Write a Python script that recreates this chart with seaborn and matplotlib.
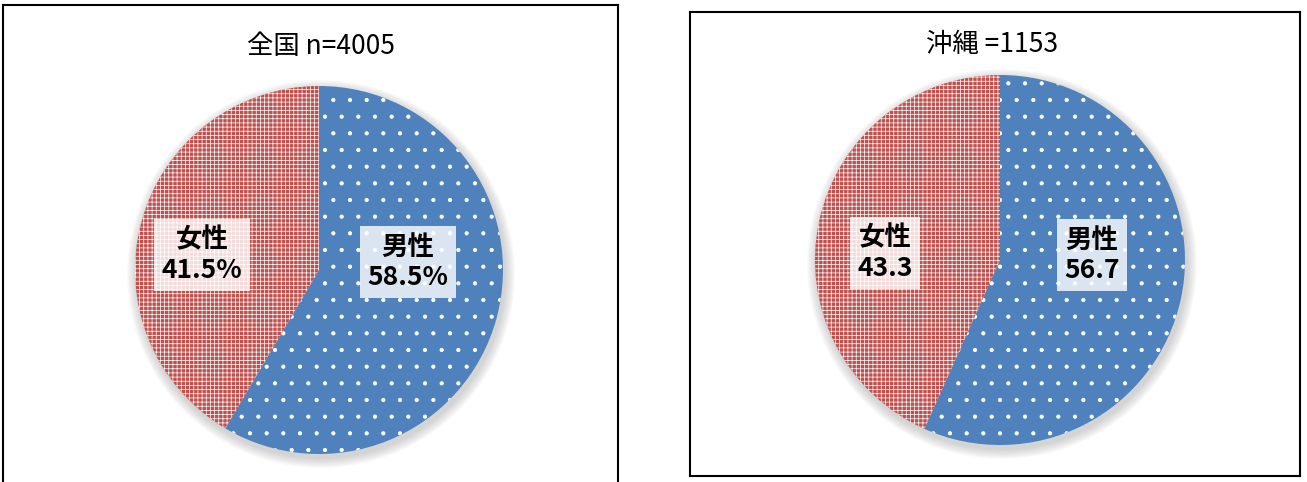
import matplotlib
matplotlib.use("Agg")
from matplotlib import pyplot as plt
from matplotlib.patches import Circle
import seaborn as sns

# data
titles = ["全国 n=4005", "沖縄 =1153"]
labels = ["男性", "女性"]
zenkoku = [58.5, 41.5]
okinawa = [56.7, 43.3]
zenkoku_text = ["58.5%", "41.5%"]
okinawa_text = ["56.7", "43.3"]

sns.set_theme(style="white")
plt.rcParams['font.family'] = ['Noto Sans CJK JP', 'DejaVu Sans']
plt.rcParams['hatch.color'] = 'white'
plt.rcParams['hatch.linewidth'] = 0.6

colors = sns.color_palette(["#4F81BD", "#C0504D"])
hatches = [".", "++++"]
hatch_lw = [0.6, 0.5]

W, H = 1307, 482
fig = plt.figure(figsize=(W / 100, H / 100), dpi=100)

# panel boxes in pixels: left, top, right, bottom
panels = [(3, 5, 618, 487), (690, 12, 1300, 476)]
centers = [(316, 217), (310, 216)]
radius = [184, 185]
title_pos = [(318, 440), (302, 432)]
label_pos = [[(405, 225), (199, 232)], [(402, 221), (195, 223)]]
values = [zenkoku, okinawa]
texts = [zenkoku_text, okinawa_text]

for i in range(2):
    l, t, r, b = panels[i]
    w, h = r - l, b - t
    ax = fig.add_axes([l / W, (H - b) / H, w / W, h / H])
    ax.set_xlim(0, w)
    ax.set_ylim(0, h)
    for s in ax.spines.values():
        s.set_visible(True)
        s.set_color("black")
        s.set_linewidth(1.5)
    ax.set_xticks([])
    ax.set_yticks([])

    cx, cy = centers[i]
    # soft shadow
    for k in range(10):
        ax.add_patch(Circle((cx + 2, cy - 4), radius[i] + 10 - k, color="gray",
                            alpha=0.035, lw=0, zorder=0))

    wedges, _ = ax.pie(values[i], colors=colors, startangle=90, counterclock=False,
                       center=(cx, cy), radius=radius[i], frame=True,
                       wedgeprops=dict(linewidth=0))
    for wdg, hh, hl in zip(wedges, hatches, hatch_lw):
        wdg.set_hatch(hh)
        wdg.set_edgecolor("white")
        wdg.set_linewidth(0)
        if hasattr(wdg, "set_hatch_linewidth"):
            wdg.set_hatch_linewidth(hl)
    ax.set_xlim(0, w)
    ax.set_ylim(0, h)
    ax.set_aspect("equal")

    ax.text(title_pos[i][0], title_pos[i][1], titles[i], ha="center", va="center",
            fontsize=19, color="black")

    for j in range(2):
        x, y = label_pos[i][j]
        ax.text(x, y, labels[j] + "\n" + texts[i][j], ha="center", va="center",
                fontsize=19, fontweight="bold", color="black", linespacing=1.15,
                bbox=dict(boxstyle="square,pad=0.28", fc="white", ec="none", alpha=0.8))

fig.savefig("out.png", dpi=100)
